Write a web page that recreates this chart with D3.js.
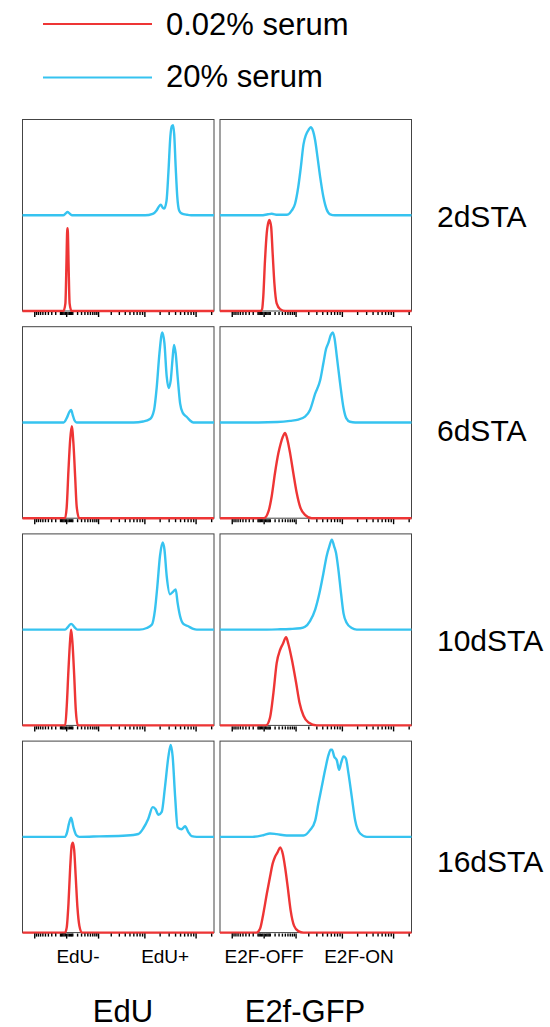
<!DOCTYPE html>
<html>
<head>
<meta charset="utf-8">
<script src="https://cdn.jsdelivr.net/npm/d3@7"></script>
<style>
    body { margin: 0; background: #fff; }
    text { font-family: "Liberation Sans", Arial, sans-serif; fill: #000; }
</style>
</head>
<body>
<div id="chart"></div>
<script>
// Nombres y etiquetas
var seriesNames = ["0.02% serum", "20% serum"];
var rowLabels = ["2dSTA", "6dSTA", "10dSTA", "16dSTA"];
var colTitles = ["EdU", "E2f-GFP"];
var gateLabels = [["EdU-", "EdU+"], ["E2F-OFF", "E2F-ON"]];
var gateChannels = [[290, 745], [230, 726]];

// Ticks del eje (unidades de fluorescencia)
var majorTicks = [-1000, 0, 1000, 10000, 100000];
var minorTicks = [-900, -800, -700, -600, -500, -400, -300, -200, -100,
    -80, -60, -40, -20, 20, 40, 60, 80,
    100, 200, 300, 400, 500, 600, 700, 800, 900,
    2000, 3000, 4000, 5000, 6000, 7000, 8000, 9000,
    20000, 30000, 40000, 50000, 60000, 70000, 80000, 90000, 200000];

// Histogramas: [canal 0-1000, % de la altura de media caja]
var eduLow2 = [[0,0],[214,0],[224,8],[229,45],[233,82],[235,86.5],[237,82],[241,45],[246,8],[256,0],[1000,0]];
var eduHigh2 = [[0,0],[212,0],[226,2],[235,3.5],[245,2],[258,0],[640,0],[680,1.5],[700,5],[712,9],[722,11],[732,8],[740,7],[752,15],[762,45],[772,82],[780,93],[786,94],[792,85],[800,50],[808,20],[818,5],[830,2],[860,0.5],[880,0],[1000,0]];
var e2fLow2 = [[0,0],[212,0],[220,2],[226,15],[235,53],[244,81],[253,93],[258,95],[267,88],[275,60],[284,29],[296,8],[314,2],[340,0],[1000,0]];
var e2fHigh2 = [[0,0],[215,0],[250,1],[270,1.5],[300,0.5],[340,0.5],[357,1],[375,5],[392,12],[409,30],[422,50],[436,74],[449,84],[462,89],[474,92],[484,89],[497,78],[509,61],[523,40],[540,19],[557,6],[575,1],[600,0],[1000,0]];

var eduLow6 = [[0,0],[222,0],[231,12],[240,50],[249,82],[257,96],[266,78],[275,43],[283,12],[296,0],[1000,0]];
var eduHigh6 = [[0,0],[215,0],[232,5],[245,11],[254,13],[262,8],[272,2],[283,0],[580,0],[630,1],[666,3.5],[687,13],[701,37],[715,72],[730,94],[741,83],[753,48],[763,36],[774,44],[783,65],[791,81],[800,72],[810,48],[823,20],[837,10],[857,6],[875,2],[892,0],[1000,0]];
var e2fLow6 = [[0,0],[230,0],[253,7],[270,23],[287,47],[305,68],[317,78],[328,85],[340,89],[352,82],[366,68],[383,47],[401,26],[418,12],[444,3.5],[479,0],[1000,0]];
var e2fHigh6 = [[0,0],[200,0],[300,0.5],[366,1.7],[409,3],[444,6],[470,13],[497,30],[523,44],[540,62],[554,77],[566,83],[578,91],[589,94],[598,88],[610,69],[627,41],[645,15],[659,4.5],[679,0.7],[706,0],[1000,0]];

var eduLow10 = [[0,0],[223,0],[231,20],[240,58],[249,90],[254,100],[261,86],[270,52],[278,17],[289,0],[1000,0]];
var eduHigh10 = [[0,0],[222,0],[238,3],[254,6],[270,3],[287,0],[610,0],[649,1.7],[675,5],[692,21],[704,45],[718,77],[732,91],[741,84],[753,56],[770,37],[788,40],[800,42],[810,28],[823,14],[840,6],[866,3.5],[892,0.7],[910,0],[1000,0]];
var e2fLow10 = [[0,0],[240,0],[261,8],[279,34],[296,65],[314,79],[328,85],[345,92],[357,85],[375,69],[397,45],[415,24],[436,10],[462,3],[505,0],[1000,0]];
var e2fHigh10 = [[0,0],[200,0],[300,0.3],[366,0.7],[420,1.5],[444,3],[470,9],[497,21],[519,38],[540,59],[557,77],[571,87],[584,94],[596,87],[606,80],[618,63],[632,38],[645,17],[662,7],[688,1.7],[714,0],[1000,0]];

var eduLow16 = [[0,0],[222,0],[231,5.5],[240,30],[249,68],[257,91],[263,94],[270,86],[278,58],[287,26],[297,7],[310,0],[1000,0]];
var eduHigh16 = [[0,0],[220,0],[231,3.5],[243,14],[254,20],[266,10],[280,2],[297,0],[400,0.5],[544,1.4],[605,3],[631,9],[657,19],[680,31],[694,29],[710,23],[727,26],[744,52],[762,84],[774,96],[784,84],[797,42],[810,10],[831,8],[849,11],[866,5],[883,0.7],[910,0],[1000,0]];
var e2fLow16 = [[0,0],[190,0],[209,4],[226,19.5],[244,40],[261,58],[275,72],[287,79],[301,84],[314,89],[328,82],[340,68],[354,47],[369,23],[387,7],[409,1.5],[436,0],[1000,0]];
var e2fHigh16 = [[0,0],[170,0],[226,1.7],[261,3.5],[296,2.8],[348,1.4],[436,1.4],[470,7],[497,17],[514,35],[531,52],[549,70],[566,85],[578,91],[585,91],[596,84],[610,80],[622,70],[632,77],[645,84],[657,82],[671,66],[688,42],[706,17],[732,3.5],[767,0],[1000,0]];

// filas x columnas: [bajo suero, alto suero]
var panels = [
    [[eduLow2, eduHigh2], [e2fLow2, e2fHigh2]],
    [[eduLow6, eduHigh6], [e2fLow6, e2fHigh6]],
    [[eduLow10, eduHigh10], [e2fLow10, e2fHigh10]],
    [[eduLow16, eduHigh16], [e2fLow16, e2fHigh16]]
];

var colors = ["#ee3535", "#36c3f0"];

var svgWidth = 550;
var svgHeight = 1027;
var panelW = 191.5;
var panelH = 191.5;
var colX = [22.5, 220];
var rowTop = 119.5;
var rowStep = 207.2;
// desplazamiento vertical de las etiquetas de fila respecto al centro de la caja
var rowLabelShift = [12, 19, 21, 35];

var svg = d3.select("#chart")
    .append("svg")
    .attr("width", svgWidth)
    .attr("height", svgHeight);

// Escalas
var xScale = d3.scaleLinear().domain([0, 1000]).range([0, panelW]);
var tickScale = d3.scaleSymlog().constant(320).domain([-1904, 226900]).range([0, panelW]);
var yScale = d3.scaleLinear().domain([0, 100]).range([panelH / 2, 0]);

function lineAt(offset) {
    return d3.line()
        .x(d => xScale(d[0]))
        .y(d => yScale(d[1]) + offset)
        .curve(d3.curveMonotoneX);
}

// Leyenda
seriesNames.forEach(function(name, i) {
    var ly = [24, 77.5][i];
    svg.append("line")
        .attr("x1", 43).attr("x2", 152)
        .attr("y1", ly).attr("y2", ly)
        .attr("stroke", colors[i])
        .attr("stroke-width", 2);
    svg.append("text")
        .attr("x", 166)
        .attr("y", [35, 86.5][i])
        .style("font-size", "31px")
        .text(name);
});

panels.forEach(function(row, r) {
    var top = rowTop + r * rowStep;
    row.forEach(function(pair, c) {
        var g = svg.append("g")
            .attr("transform", `translate(${colX[c]}, ${top})`);

        g.append("rect")
            .attr("width", panelW)
            .attr("height", panelH)
            .attr("fill", "none")
            .attr("stroke", "#444")
            .attr("stroke-width", 1);

        // alto suero arriba, bajo suero abajo
        g.append("path")
            .datum(pair[1])
            .attr("d", lineAt(0))
            .attr("fill", "none")
            .attr("stroke", colors[1])
            .attr("stroke-width", 2.4)
            .attr("stroke-linejoin", "round");

        g.append("path")
            .datum(pair[0])
            .attr("d", lineAt(panelH / 2))
            .attr("fill", "none")
            .attr("stroke", colors[0])
            .attr("stroke-width", 2.4)
            .attr("stroke-linejoin", "round");

        g.append("g")
            .attr("transform", `translate(0, ${panelH + 1})`)
            .call(d3.axisBottom(tickScale).tickValues(majorTicks).tickSize(5).tickFormat(""));
        g.append("g")
            .attr("transform", `translate(0, ${panelH + 1})`)
            .call(d3.axisBottom(tickScale).tickValues(minorTicks).tickSize(3).tickFormat(""));
        g.selectAll(".domain").remove();
        g.selectAll(".tick line")
            .attr("stroke", "#000")
            .attr("stroke-width", 1.4);

        if (r === panels.length - 1) {
            gateLabels[c].forEach(function(lbl, k) {
                g.append("text")
                    .attr("x", xScale(gateChannels[c][k]))
                    .attr("y", panelH + 30)
                    .attr("text-anchor", "middle")
                    .style("font-size", "19px")
                    .text(lbl);
            });
        }
    });

    svg.append("text")
        .attr("x", 437)
        .attr("y", top + panelH / 2 + rowLabelShift[r])
        .style("font-size", "30px")
        .text(rowLabels[r]);
});

// Títulos de columnas
colTitles.forEach(function(t, c) {
    svg.append("text")
        .attr("x", [123, 305][c])
        .attr("y", 1021.5)
        .attr("text-anchor", "middle")
        .style("font-size", "31px")
        .text(t);
});
</script>
</body>
</html>
